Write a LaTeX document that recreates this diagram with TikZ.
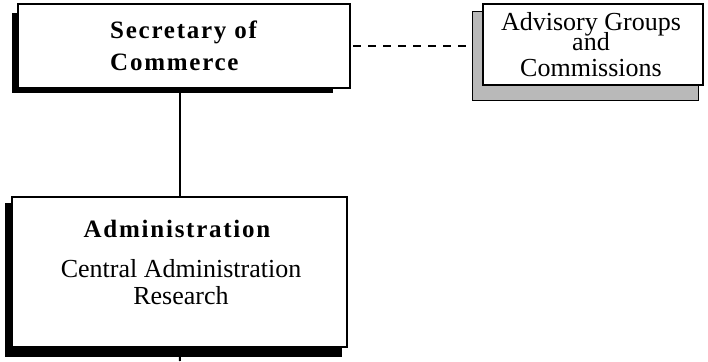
\documentclass[tikz,border=0pt]{standalone}
\usepackage{fontspec}
\setmainfont{Liberation Serif}
\newfontfamily\titlefont{Liberation Serif}[LetterSpace=7]
\usetikzlibrary{calc}
\tikzset{
  boxst/.style={draw=black, fill=white, line width=2.4pt, inner sep=0pt},
  shadowst/.style={fill=black},
  patshadow/.style={fill=gray!55, draw=black, line width=1pt},
  titlest/.style={font=\titlefont\bfseries\fontsize{25}{32}\selectfont, align=left, inner sep=0pt},
  bodyst/.style={font=\fontsize{26}{27}\selectfont, align=center, inner sep=0pt},
  advst/.style={font=\fontsize{26}{25}\selectfont, align=center, inner sep=0pt},
  conn/.style={line width=2pt},
  dashconn/.style={line width=2.4pt, dash pattern=on 8pt off 7pt}
}
\begin{document}
\begin{tikzpicture}[x=1pt,y=-1pt]
\useasboundingbox (0,0) rectangle (708,361);
% shadows
\fill[shadowst] (12,13) rectangle (333,93);
\fill[shadowst] (5,203) rectangle (342,357);
\draw[patshadow] (472,12) rectangle (698,100);
% boxes
\node[boxst, minimum width=332pt, minimum height=84pt] (sec) at (184,46) {};
\node[boxst, minimum width=335pt, minimum height=150pt] (adm) at (179.5,272) {};
\node[boxst, minimum width=220pt, minimum height=81pt] (adv) at (593,44.5) {};
% texts
\node[titlest, anchor=base west] (sect) at (110,70) {Secretary of\\Commerce};
\node[titlest, anchor=base] (admt) at (177,237) {Administration};
\node[bodyst, anchor=base] (admb) at (181,304) {Central Administration\\Research};
\node[advst, anchor=base] (advt) at (591,76) {Advisory Groups\\[-4pt]and\\[0pt]Commissions};
% connectors
\coordinate (stub) at (180,361);
\coordinate (advleft) at (472,46);
\draw[conn] (adm.north) -- (adm.north |- sec.south);
\draw[conn] (adm.south) -- (stub);
\draw[dashconn] (sec.east) ++(2,0) -- (advleft);
\end{tikzpicture}
\end{document}
